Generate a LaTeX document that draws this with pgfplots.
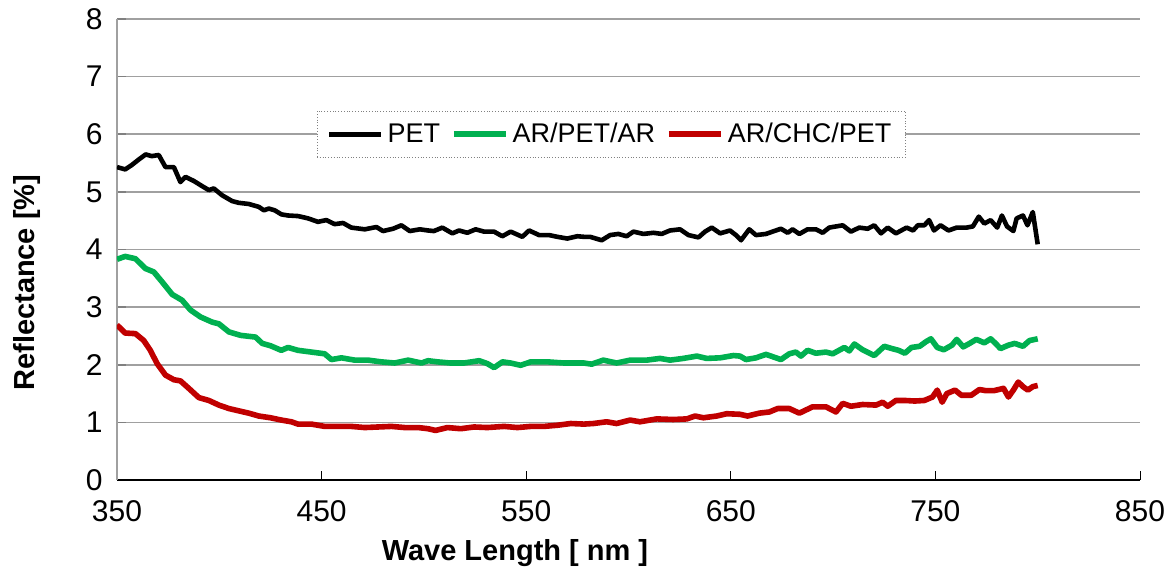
\documentclass[border=0pt]{standalone}
\usepackage{fontspec}
\setmainfont{Liberation Sans}
\usepackage{pgfplots}
\pgfplotsset{compat=1.18}
\definecolor{argreen}{RGB}{0,176,80}
\definecolor{arred}{RGB}{192,0,0}
\definecolor{gridgray}{RGB}{160,160,160}
\begin{document}
\begin{tikzpicture}
\begin{axis}[
    scale only axis, width=511.5pt, height=230.5pt,
    xmin=350, xmax=850, ymin=0, ymax=8,
    xtick={350,450,...,850}, ytick={0,1,...,8},
    axis x line*=bottom, axis y line*=left,
    x axis line style={black, line width=0.6pt},
    y axis line style={gridgray, line width=1.3pt},
    tick align=inside, major tick length=4.5pt,
    xtick style={black, line width=0.5pt},
    ytick style={gray, line width=0.8pt},
    ymajorgrids, grid style={gridgray, line width=0.8pt},
    /pgf/number format/assume math mode=true,
    ticklabel style={font=\fontsize{15}{18}\selectfont},
    xticklabel style={inner sep=0pt, anchor=north, yshift=-10pt},
    yticklabel style={inner sep=0pt, anchor=east, xshift=-7pt},
    xlabel={Wave Length [ nm ]}, ylabel={Reflectance [\%]},
    label style={font=\bfseries\fontsize{14.5}{17}\selectfont},
    xlabel style={at={(axis description cs:0.389,-0.1757)}, anchor=base},
    ylabel style={at={(axis description cs:-0.0811,0.428)}, anchor=base},
    legend columns=3,
    legend image code/.code={\draw[#1, solid] (0pt,0pt) -- (26pt,0pt);},
    legend style={at={(axis description cs:0.483,0.75)}, anchor=center,
        draw=gray, densely dotted, fill=white,
        font=\fontsize{13.5}{16}\selectfont,
        inner xsep=5pt, inner ysep=4pt,
        /tikz/every even column/.append style={column sep=3.5pt}},
]
\addplot[black, line width=2.3pt, line join=round] coordinates {
(350,5.43)(352,5.41)(354,5.39)(357,5.46)(360.6,5.56)(364,5.65)(367,5.62)(370.4,5.64)
(373.7,5.43)(377.8,5.43)(381,5.17)(383.5,5.26)(387.5,5.19)(391.6,5.10)(394.9,5.03)
(397.3,5.06)(401.4,4.94)(406.3,4.84)(409.5,4.81)(414.4,4.79)(419.3,4.74)(421.8,4.68)
(424.2,4.71)(427.1,4.68)(430.3,4.61)(433.6,4.59)(438.5,4.58)(443.4,4.54)(448.2,4.48)
(452.3,4.51)(456.4,4.44)(460.5,4.46)(464.5,4.38)(471.1,4.35)(476.8,4.39)(480,4.32)
(484.9,4.36)(489,4.42)(493.1,4.32)(498,4.35)(502,4.33)(504.9,4.32)(509,4.38)
(513.9,4.28)(517.2,4.33)(521.2,4.29)(525.3,4.35)(529.4,4.31)(534.3,4.31)(538.3,4.23)
(542.4,4.31)(548.1,4.22)(551.4,4.33)(556.3,4.25)(561.2,4.25)(565.2,4.22)(570.1,4.19)
(575,4.23)(578.2,4.22)(581.2,4.22)(586.9,4.16)(591,4.25)(595,4.27)(599.1,4.23)
(602.4,4.31)(607.3,4.27)(612.2,4.29)(616.2,4.27)(620.3,4.33)(625.2,4.35)(629.3,4.25)
(634.2,4.21)(637.4,4.31)(640.7,4.38)(644.8,4.28)(649.6,4.33)(652.5,4.25)(655,4.16)
(659,4.35)(662.3,4.25)(667.2,4.27)(671.2,4.32)(674.5,4.36)(677.8,4.29)(680.2,4.35)
(683.5,4.27)(687.5,4.35)(691.6,4.35)(694.9,4.29)(698.1,4.38)(701.4,4.40)(704.7,4.42)
(708.7,4.31)(712.8,4.38)(716.9,4.36)(720.1,4.42)(723.4,4.28)(726.7,4.38)(730.7,4.28)
(735.9,4.38)(739.1,4.33)(741.4,4.42)(744.6,4.42)(746.9,4.51)(749.3,4.33)(752.5,4.42)
(756.4,4.33)(760.4,4.38)(765.2,4.38)(768.3,4.40)(771.2,4.57)(773.9,4.45)(777.0,4.51)
(780.2,4.38)(782.5,4.59)(785.0,4.40)(788.1,4.32)(789.7,4.54)(792.8,4.59)(795.0,4.42)
(797.6,4.65)(800,4.09)
};
\addlegendentry{PET}
\addplot[argreen, line width=2.8pt, line join=round] coordinates {
(350,3.83)(354,3.88)(359,3.84)(363.9,3.67)(368,3.61)(372,3.44)(377,3.22)(381.8,3.12)
(385.9,2.95)(390.8,2.83)(396.5,2.74)(399.8,2.71)(404.7,2.57)(410.4,2.51)(417.7,2.48)
(421,2.37)(425,2.33)(430.3,2.25)(433.6,2.30)(438.5,2.25)(445,2.22)(451.5,2.19)
(454.8,2.09)(459.7,2.12)(466.2,2.08)(472.7,2.08)(479.2,2.05)(485.7,2.03)(492.3,2.08)
(498.8,2.03)(502,2.07)(506.6,2.05)(513,2.03)(519.6,2.03)(527,2.07)(531,2.02)
(534.3,1.95)(538.4,2.05)(542.4,2.03)(547.3,1.99)(552.2,2.05)(560.4,2.05)(568.5,2.03)
(578.2,2.03)(582,2.01)(587.7,2.08)(594.2,2.03)(600.8,2.08)(608.9,2.08)(615.4,2.11)
(620.3,2.08)(626.8,2.11)(633.4,2.15)(638.2,2.11)(644.8,2.12)(651.3,2.16)(654.5,2.15)
(657.4,2.09)(662.3,2.12)(667.2,2.18)(674.5,2.09)(678.6,2.19)(681.8,2.22)(684.3,2.15)
(687.5,2.25)(691.6,2.20)(696.5,2.22)(699.8,2.19)(705.5,2.30)(707.9,2.24)(710.4,2.36)
(714.4,2.26)(720.1,2.16)(725,2.32)(728.8,2.28)(732.0,2.25)(735.1,2.20)(738.3,2.30)
(742.3,2.32)(745.4,2.40)(747.8,2.45)(750.9,2.30)(754.1,2.26)(758.1,2.34)(760.4,2.44)
(763.6,2.31)(766.7,2.37)(770.0,2.44)(773.9,2.38)(777.0,2.45)(779.4,2.37)(781.8,2.28)
(785.7,2.34)(788.8,2.37)(792.8,2.32)(796.0,2.42)(800,2.45)
};
\addlegendentry{AR/PET/AR}
\addplot[arred, line width=2.8pt, line join=round] coordinates {
(350,2.69)(354,2.55)(359,2.54)(363.1,2.42)(366.3,2.25)(369.6,2.02)(373.7,1.82)
(377.8,1.74)(381,1.72)(385.1,1.59)(390,1.43)(394.9,1.38)(399.8,1.30)(404.7,1.24)
(409.5,1.20)(414.4,1.16)(419.3,1.11)(425,1.08)(430.3,1.04)(435.2,1.01)(438.5,0.97)
(445,0.97)(451.5,0.93)(458,0.93)(464.5,0.93)(471.1,0.91)(477.6,0.92)(484.1,0.93)
(490.6,0.91)(497.2,0.91)(502,0.89)(505.7,0.86)(511.5,0.91)(518,0.89)(524.5,0.92)
(531,0.91)(539.2,0.93)(545.7,0.91)(552.2,0.93)(558.7,0.93)(565.2,0.95)(571.8,0.98)
(578.2,0.97)(582.8,0.98)(589.3,1.01)(594.2,0.98)(600.8,1.04)(605.6,1.01)(613.8,1.06)
(621.9,1.05)(628.5,1.06)(632.5,1.11)(636.6,1.08)(643.1,1.11)(648,1.15)(654.5,1.14)
(658.2,1.11)(663.9,1.16)(668.8,1.18)(672.9,1.24)(678.6,1.24)(683.5,1.16)(690,1.27)
(696.5,1.27)(701.4,1.18)(704.7,1.33)(708.7,1.28)(714.4,1.31)(721,1.30)(724.2,1.35)
(726.7,1.28)(730.7,1.38)(735.1,1.38)(739.9,1.37)(744.6,1.38)(748.6,1.44)(750.9,1.56)
(753.3,1.35)(755.6,1.50)(759.6,1.56)(762.7,1.47)(767.5,1.47)(771.5,1.57)(774.7,1.55)
(778.6,1.55)(783.3,1.59)(785.7,1.44)(788.1,1.56)(790.5,1.70)(792.8,1.62)(795.2,1.56)
(797.6,1.62)(800,1.64)
};
\addlegendentry{AR/CHC/PET}
\end{axis}
\pgfresetboundingbox
\path[use as bounding box] ([shift={(-58.5pt,-44.5pt)}]current axis.south west) rectangle ([shift={(17pt,9.5pt)}]current axis.north east);
\end{tikzpicture}
\end{document}
